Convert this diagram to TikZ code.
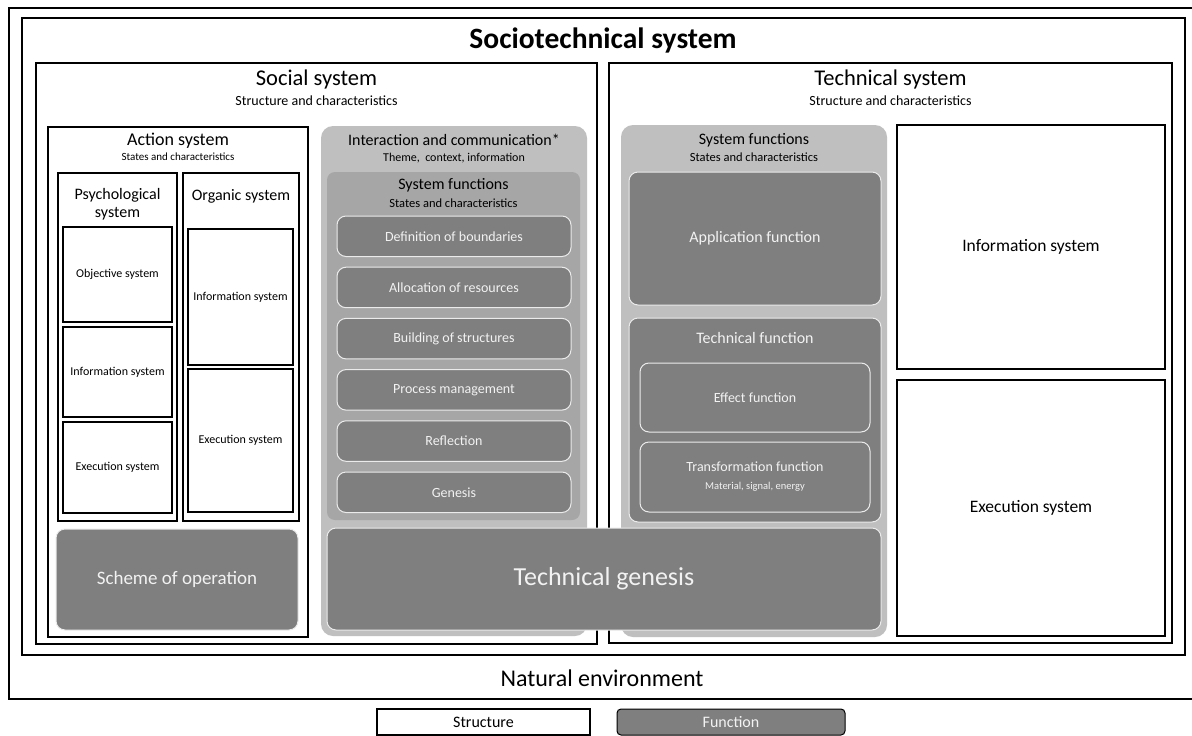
\documentclass[tikz,border=0pt]{standalone}
\usepackage{fontspec}
\setmainfont{Carlito}

\definecolor{lightbox}{HTML}{BFBFBF}
\definecolor{midbox}{HTML}{A6A6A6}
\definecolor{funbox}{HTML}{7F7F7F}
\definecolor{funline}{HTML}{EBEBEB}
\definecolor{funtext}{HTML}{F2F2F2}

\newcommand{\fsz}[2]{\fontsize{#1}{#2}\selectfont}
% box as a node between two corners: name, style, x1, y1, x2, y2, text
\newcommand{\boxnode}[7]{%
  \node[#2, anchor=north west, inner sep=0pt, outer sep=0pt, align=center,
        minimum width=#5-#3, minimum height=#6-#4] (#1) at (#3,#4) {#7};}

\tikzset{
  sbox/.style={draw=black, line width=2.2pt, fill=white},
  lbox/.style={fill=lightbox, rounded corners=12pt},
  mbox/.style={fill=midbox, rounded corners=8pt},
  fbox/.style={fill=funbox, draw=funline, line width=1pt, rounded corners=9pt, text=funtext},
  bigtitle/.style={font=\bfseries\fsz{29.5}{32}},
  maintitle/.style={font=\fsz{22.5}{26}},
  subtitle/.style={font=\fsz{14}{16}}
}

\begin{document}
\begin{tikzpicture}[x=1pt, y=-1pt]
    \fill[white] (0,0) rectangle (1192,736);
    \useasboundingbox (0,0) rectangle (1192,736);

    % environment and sociotechnical system
    \boxnode{nature}{sbox}{9}{8}{1196}{699}{}
    \boxnode{socio}{sbox}{22}{18}{1185}{655}{}
    \node[bigtitle] (sociotitle) at (603,40) {Sociotechnical system};
    \node[font=\fsz{24}{28}] (naturetitle) at (602,678) {Natural environment};

    % social system
    \boxnode{social}{sbox}{36}{63}{597}{644}{}
    \node[maintitle] (socialtitle) at (316.5,80) {Social system};
    \node[subtitle] (socialsub) at (316.5,101) {Structure and characteristics};

    \boxnode{action}{sbox}{48}{127}{308}{637}{}
    \node[font=\fsz{18}{20}] (actiontitle) at (178,141) {Action system};
    \node[font=\fsz{11}{13}] (actionsub) at (178,157) {States and characteristics};

    \boxnode{psych}{sbox}{58}{173}{177}{521}{}
    \node[font=\fsz{16}{18}, align=center] (psychtitle) at (117.5,204) {Psychological\\system};
    \boxnode{objective}{sbox, font=\fsz{12}{14}}{63}{227}{172}{322}{Objective system}
    \boxnode{psyinfo}{sbox, font=\fsz{12}{14}}{63}{327}{172}{417}{Information system}
    \boxnode{psyexec}{sbox, font=\fsz{12}{14}}{63}{422}{172}{513}{Execution system}

    \boxnode{organic}{sbox}{183}{173}{299}{521}{}
    \node[font=\fsz{16}{18}] (organictitle) at (241,196) {Organic system};
    \boxnode{orginfo}{sbox, font=\fsz{12}{14}}{188}{229}{293}{365}{Information system}
    \boxnode{orgexec}{sbox, font=\fsz{12}{14}}{188}{369}{293}{512}{Execution system}

    \boxnode{scheme}{fbox, font=\fsz{19}{22}}{56}{529}{298}{630}{Scheme of operation}

    \boxnode{interaction}{lbox}{321}{126}{587}{636}{}
    \node[font=\fsz{16}{18}] (interactiontitle) at (454,140) {Interaction and communication*};
    \node[font=\fsz{12}{14}] (interactionsub) at (454,158) {Theme,\ \ context, information};

    \boxnode{sysfun}{mbox}{327}{172}{580}{520}{}
    \node[font=\fsz{16}{18}] (sysfuntitle) at (453.5,185) {System functions};
    \node[font=\fsz{12.5}{14}] (sysfunsub) at (453.5,203) {States and characteristics};
    \foreach \t [count=\i from 0] in {Definition of boundaries, Allocation of resources,
        Building of structures, Process management, Reflection, Genesis}{
      \pgfmathsetmacro{\ytop}{216+51.2*\i}
      \pgfmathsetmacro{\ybot}{\ytop+40.5}
      \boxnode{sf\i}{fbox, font=\fsz{14}{16}}{337}{\ytop}{571}{\ybot}{\t}
    }

    % technical system
    \boxnode{technical}{sbox}{609}{63}{1172}{643}{}
    \node[maintitle] (techtitle) at (890.5,80) {Technical system};
    \node[subtitle] (techsub) at (890.5,101) {Structure and characteristics};

    \boxnode{techsysfun}{lbox}{621}{125}{887}{637}{}
    \node[font=\fsz{16}{18}] (techsysfuntitle) at (754,140) {System functions};
    \node[font=\fsz{12.5}{14}] (techsysfunsub) at (754,157) {States and characteristics};
    \boxnode{application}{fbox, font=\fsz{16}{18}}{629}{172}{881}{305}{Application function}
    \boxnode{techfun}{fbox}{629}{318}{881}{522}{}
    \node[font=\fsz{16}{18}, text=funtext] (techfuntitle) at (755,338) {Technical function};
    \boxnode{effect}{fbox, font=\fsz{14}{16}}{640}{363}{870}{432}{Effect function}
    \boxnode{transform}{fbox, font=\fsz{14}{18}}{640}{442}{870}{512}{Transformation function\\{\fsz{10.5}{12}Material, signal, energy}}

    \boxnode{techinfo}{sbox, font=\fsz{17.5}{20}}{897}{125}{1165}{369}{Information system}
    \boxnode{techexec}{sbox, font=\fsz{17.5}{20}}{897}{380}{1165}{636}{Execution system}

    % spans both systems
    \boxnode{genesis}{fbox, font=\fsz{26}{28}}{327}{528}{881}{630}{Technical genesis}

    % legend
    \boxnode{structure}{sbox, line width=1.5pt, font=\fsz{16}{18}}{377}{709}{590}{735}{Structure}
    \boxnode{function}{fill=funbox, draw=black, line width=1pt, rounded corners=4pt, text=funtext, font=\fsz{16}{18}}{617}{709}{845}{735}{Function}
\end{tikzpicture}
\end{document}
